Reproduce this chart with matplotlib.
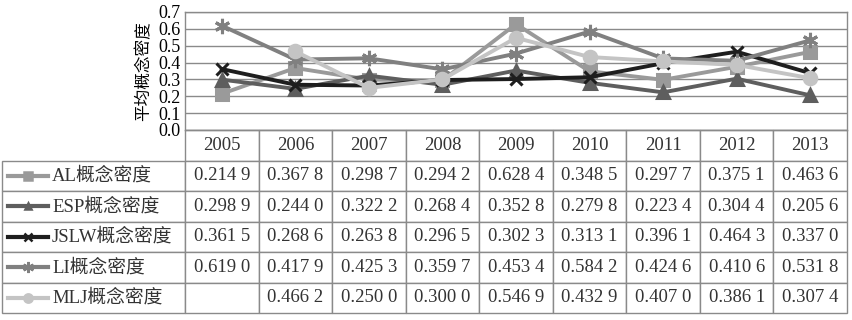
import numpy as np
import matplotlib
matplotlib.use("Agg")
import matplotlib.pyplot as plt
from matplotlib.lines import Line2D

plt.rcParams['font.family'] = ['Liberation Serif', 'Noto Sans CJK SC']

years = ['2005', '2006', '2007', '2008', '2009', '2010', '2011', '2012', '2013']
series_names = ['AL概念密度', 'ESP概念密度', 'JSLW概念密度', 'LI概念密度', 'MLJ概念密度']
al = [0.2149, 0.3678, 0.2987, 0.2942, 0.6284, 0.3485, 0.2977, 0.3751, 0.4636]
esp = [0.2989, 0.2440, 0.3222, 0.2684, 0.3528, 0.2798, 0.2234, 0.3044, 0.2056]
jslw = [0.3615, 0.2686, 0.2638, 0.2965, 0.3023, 0.3131, 0.3961, 0.4643, 0.3370]
li = [0.6190, 0.4179, 0.4253, 0.3597, 0.4534, 0.5842, 0.4246, 0.4106, 0.5318]
mlj = [np.nan, 0.4662, 0.2500, 0.3000, 0.5469, 0.4329, 0.4070, 0.3861, 0.3074]
yticks = [0.0, 0.1, 0.2, 0.3, 0.4, 0.5, 0.6, 0.7]
ylabel = '平均概念密度'

data = [al, esp, jslw, li, mlj]
colors = ['#9a9a9a', '#5e5e5e', '#1e1e1e', '#808080', '#c4c4c4']
markers = ['s', '^', 'x', (6, 2, 0), 'o']
msizes = [9, 8, 9, 11, 9]

W, H = 852, 320
fig = plt.figure(figsize=(W / 100, H / 100), dpi=100)
L, R, B, T = 185, 847, 130, 12
ax = fig.add_axes([L / W, 1 - B / H, (R - L) / W, (B - T) / H])

x = np.arange(len(years))
for vals, c, m, ms in zip(data, colors, markers, msizes):
    ax.plot(x, vals, color=c, lw=2.8, marker=m, ms=ms, mec=c, mfc=c, mew=2.2, zorder=3)

ax.set_xlim(-0.5, len(years) - 0.5)
ax.set_ylim(0, 0.7)
ax.set_yticks(yticks)
ax.set_yticklabels([f'{v:.1f}' for v in yticks], fontsize=13)
ax.tick_params(axis='y', length=0, pad=3)
ax.set_xticks([])
ax.grid(axis='y', color='#8a8a8a', lw=1)
for s in ax.spines.values():
    s.set_color('#8a8a8a')
    s.set_linewidth(1)
ax.set_ylabel(ylabel, fontsize=12, labelpad=4)

# table
def fmt(v):
    if np.isnan(v):
        return ''
    s = f'{v:.4f}'
    return s[:-1] + ' ' + s[-1]

cell_text = [[''] + [fmt(v) for v in vals] for vals in data]
tx0, tx1 = 2, 847
ty1 = 313
lab_w = L - tx0
col_w = (R - L) / len(years)
bbox = [(tx0 - L) / (R - L), -(ty1 - B) / (B - T), (tx1 - tx0) / (R - L), (ty1 - B) / (B - T)]
tab = ax.table(cellText=cell_text, colLabels=[''] + years, cellLoc='center',
               colWidths=[lab_w] + [col_w] * len(years), bbox=bbox)
tab.auto_set_font_size(False)
tab.set_fontsize(13.5)
for (r, c), cell in tab.get_celld().items():
    cell.set_edgecolor('#8a8a8a')
    cell.set_linewidth(1)
    cell.get_text().set_color('#333333')
    if r == 0 and c == 0:
        cell.visible_edges = ''

nrows = len(data) + 1
row_h = (ty1 - B) / nrows
for i, (name, c, m, ms) in enumerate(zip(series_names, colors, markers, msizes)):
    yc = B + row_h * (i + 1.5)
    ya = -(yc - B) / (B - T)
    xs = [(8 - L) / (R - L), (48 - L) / (R - L)]
    ln = Line2D(xs, [ya, ya], color=c, lw=3, transform=ax.transAxes, clip_on=False)
    ax.add_line(ln)
    ln2 = Line2D([(28 - L) / (R - L)], [ya], color=c, lw=0, marker=m, ms=ms - 3, mec=c, mfc=c,
                 mew=1.8, transform=ax.transAxes, clip_on=False)
    ax.add_line(ln2)
    ax.text((52 - L) / (R - L), ya, name, transform=ax.transAxes, fontsize=13.5,
            ha='left', va='center', color='#333333')

fig.savefig('out.png', dpi=100)
